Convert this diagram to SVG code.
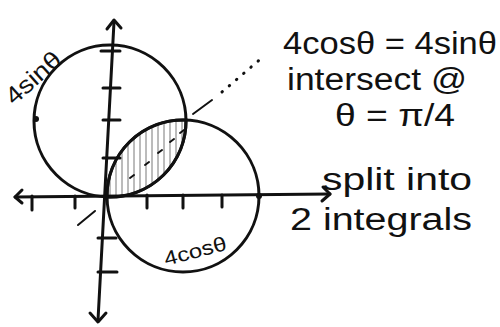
<svg xmlns="http://www.w3.org/2000/svg" width="500" height="327" viewBox="0 0 500 327">
<style>
.ink{fill:none;stroke:#111;stroke-width:3;stroke-linecap:round;stroke-linejoin:round}
.thin{fill:none;stroke:#111;stroke-width:2;stroke-linecap:round}
.hand{font-family:"Liberation Sans","DejaVu Sans",sans-serif;fill:#111;font-weight:normal}
</style>
<defs>
<pattern id="hatch" width="6" height="10" patternUnits="userSpaceOnUse">
<line x1="2" y1="0" x2="2" y2="10" stroke="#777" stroke-width="1"/>
</pattern>
</defs>
<rect width="500" height="327" fill="#fff"/>
<g id="region">
<path d="M107,197 A76,76 0 0 1 186,120 A76,76 0 0 1 107,197 Z" fill="url(#hatch)" stroke="#111" stroke-width="3"/>
<path class="thin" d="M130,178 l4,-3 M145,165 l4,-3 M158,153 l4,-3 M170,142 l4,-3 M180,133 l4,-3"/>
</g>
<g id="connectors">
<path class="ink" d="M98,320 L114,22"/>
<path class="ink" d="M107,29 L114,20 L121,28"/>
<path class="ink" d="M90,313 L98,322 L106,313"/>
<path class="ink" d="M15,197 L330,194"/>
<path class="ink" d="M22,190 L15,197 L22,203"/>
<path class="ink" d="M323,187 L330,194 L322,201"/>
<path class="ink" d="M101,51 H120 M103,88 H120 M103,120 H120 M103,158 H120 M98,238 H116 M98,272 H117"/>
<path class="ink" d="M32,196 V210 M75,196 V208 M147,195 V208 M183,195 V208 M222,195 V207"/>
<path class="thin" d="M78,225 L95,211 M193,114 L212,100"/>
<path class="ink" stroke-dasharray="0.5,9" d="M222,92 L264,56"/>
</g>
<g id="circle-sin">
<circle class="ink" cx="110" cy="121" r="76"/>
<circle cx="36" cy="119" r="3" fill="#111"/>
</g>
<g id="circle-cos">
<circle class="ink" cx="183" cy="196" r="76"/>
<circle cx="259" cy="196" r="3" fill="#111"/>
</g>
<g id="labels">
<text class="hand" font-size="24" transform="translate(14,106) rotate(-42)" textLength="66" lengthAdjust="spacingAndGlyphs">4sinθ</text>
<text class="hand" font-size="20" transform="translate(166,266) rotate(-15)" textLength="64" lengthAdjust="spacingAndGlyphs">4cosθ</text>
<text class="hand" font-size="31" x="283" y="54" textLength="214" lengthAdjust="spacingAndGlyphs">4cosθ = 4sinθ</text>
<text class="hand" font-size="31" x="287" y="90" textLength="180" lengthAdjust="spacingAndGlyphs">intersect @</text>
<text class="hand" font-size="31" x="335" y="126" textLength="120" lengthAdjust="spacingAndGlyphs">θ = π/4</text>
<text class="hand" font-size="31" x="322" y="190" textLength="150" lengthAdjust="spacingAndGlyphs">split into</text>
<text class="hand" font-size="31" x="290" y="230" textLength="182" lengthAdjust="spacingAndGlyphs">2 integrals</text>
</g>
</svg>
